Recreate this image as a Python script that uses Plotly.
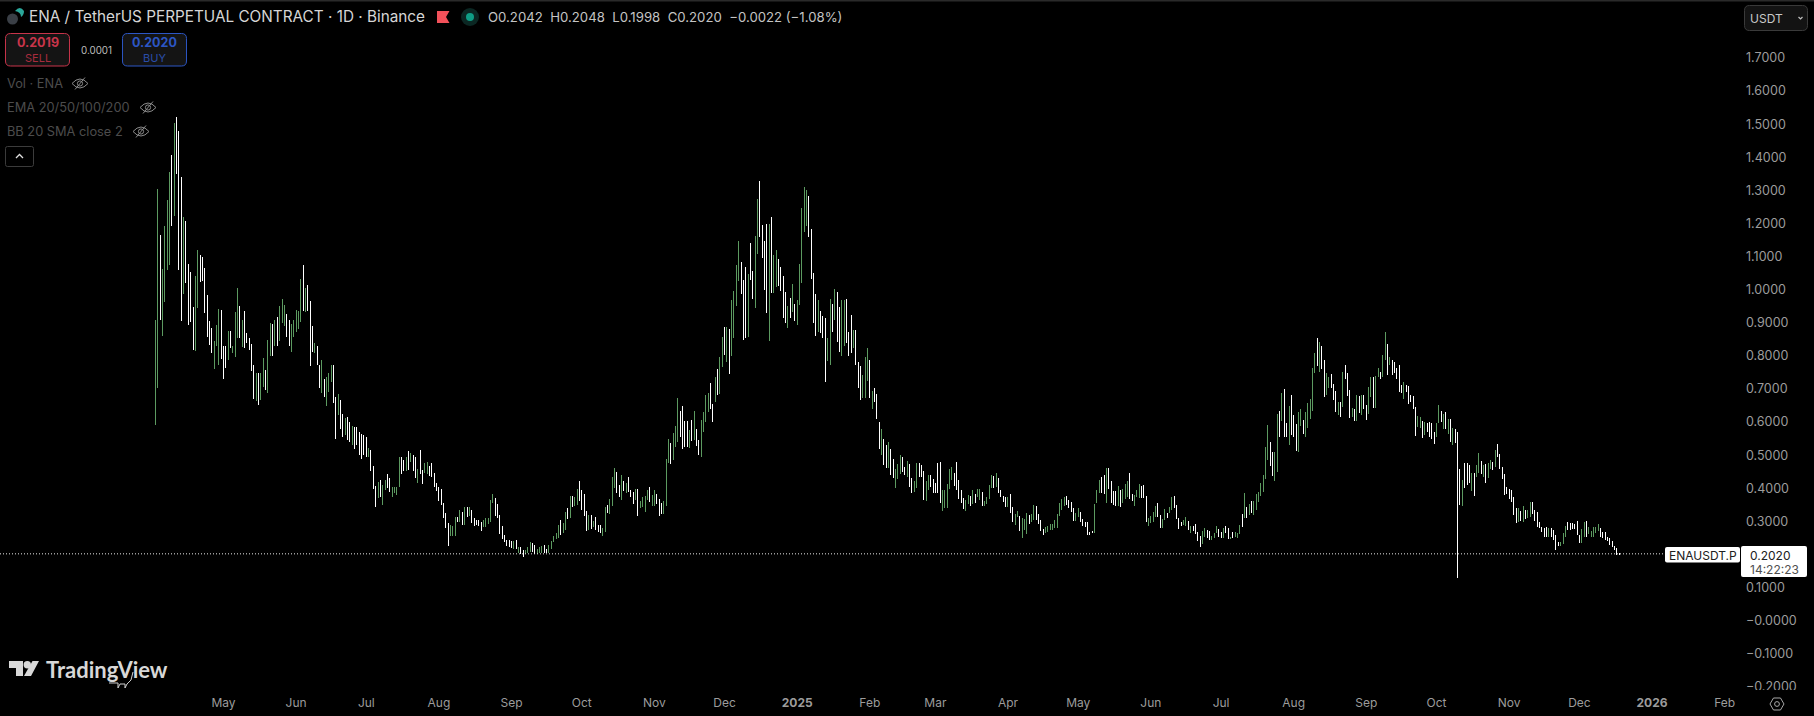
import plotly.graph_objects as go
import pandas as pd

# ---------- price data (one bar per day) ----------
start_date = "2024-04-02"

high_a = [.908,1.304,1.165,1.062,1.192,1.271,1.355,1.407,1.505,1.521,
 1.479,1.339,1.219,1.207,1.077,1.052,.948,1.041,1.120,1.105,
 1.100,1.065,.984,.905,.883,.845,.893,.942,.939,.830,
 .830,.875,.875,.830,.932,1.004,.951,.908,.937,.868,
 .853,.836,.772,.747,.747,.749,.795,.757,.848,.900,
 .896,.908,.916,.951,.971,.954,.926,.908,.896,.908,
 .939,.937,1.032,1.074,1.006,1.014,.966,.890,.838,.830,
 .774,.788,.731,.735,.747,.772,.772,.675,.685,.667,
 .624,.611,.614,.60,.588,.586,.586,.57,.565,.56]
low_a = [.591,.704,.908,.861,.964,1.059,1.075,1.192,1.224,1.349,
 1.059,.906,.987,1.021,.893,.903,.818,.816,.946,1.024,
 1.026,.931,.858,.833,.810,.761,.830,.772,.790,.731,
 .762,.788,.823,.808,.796,.855,.853,.828,.825,.838,
 .818,.755,.670,.664,.653,.667,.705,.697,.689,.800,
 .800,.830,.830,.845,.900,.891,.858,.831,.813,.858,
 .872,.880,.903,.936,.934,.936,.769,.811,.808,.772,
 .702,.687,.677,.650,.692,.722,.659,.55,.621,.58,
 .555,.56,.545,.54,.53,.52,.53,.50,.49,.50]
dir_a = "GGWGGGGWGW" "WWGWWWWGGW" "WWWWWGGGWW" "WGWGGGWGWW" "WWWGWGGWGG" "WGWGGGWWGG" "GGGWGWWWGW" "WGWGGGWWGW" "WGWWGWWWWW"

high_b = [.554,.521,.516,.467,.407,.418,.425,.410,.425,.442,
 .430,.403,.403,.403,.496,.496,.485,.496,.513,.506,
 .501,.494,.458,.516,.455,.475,.478,.467,.477,.445,
 .415,.403,.398,.355,.324,.296,.289,.287,.312,.314,
 .334,.329,.344,.344,.344,.334,.309,.304,.304,.299,
 .304,.309,.309,.365,.383,.370,.352,.319,.286,.259,
 .244,.244,.241,.242,.244,.224,.224,.214,.214,.224,
 .237,.234,.229,.216]
low_b = [.496,.496,.453,.398,.342,.370,.373,.350,.395,.400,
 .390,.373,.385,.380,.403,.442,.452,.453,.455,.480,
 .452,.430,.415,.442,.413,.445,.443,.438,.435,.405,
 .392,.363,.350,.309,.279,.227,.256,.256,.256,.299,
 .299,.289,.289,.314,.316,.296,.286,.288,.286,.272,
 .284,.282,.292,.299,.355,.316,.309,.262,.246,.239,
 .227,.224,.219,.217,.217,.206,.203,.193,.202,.206,
 .209,.209,.202,.202]
dir_b = "WGWWWGWGGW" "WGGGGWWGWG" "WWGWWGGWWW" "WWWWWWGGGW" "GWGWGWWWWW" "GGGGGWWWWW" "WWWGWGWWGG" "GWWG"

high_c = [.224,.226,.229,.216,.229,.241,.256,.264,.289,.304,
 .294,.327,.340,.377,.377,.373,.397,.422,.395,.383,
 .331,.319,.319,.301,.312,.289,.289,.279,.344,.349,
 .367,.435,.460,.449,.410,.440,.422,.417,.435,.395,
 .390,.397,.397,.363,.375,.377,.395,.403,.380,.395,
 .383,.367,.357,.361,.489,.549,.538,.566,.589,.672,
 .634,.649,.604,.604,.576,.606,.635,.579,.546,.606,
 .631]
low_c = [.204,.206,.206,.204,.204,.218,.239,.246,.251,.259,
 .266,.274,.306,.309,.344,.347,.349,.363,.335,.316,
 .272,.274,.276,.282,.274,.269,.266,.256,.269,.324,
 .322,.347,.400,.385,.373,.365,.393,.385,.390,.375,
 .353,.365,.316,.340,.343,.329,.365,.360,.347,.347,
 .353,.316,.321,.322,.347,.477,.473,.486,.526,.541,
 .556,.518,.526,.524,.523,.544,.546,.528,.500,.495,
 .571]
dir_c = "GGWWGGGGGW" "GGWGWGGWWW" "WGWGWWWGGW" "GGGWWGWGWW" "WGWGGGGWGG" "WWWGGGWGGG" "WWWWGWGWWG" "G"

high_d = [.682,.689,.717,.655,.735,.760,.796,.856,.888,.888,.881,
 .969,.996,1.075,1.148,1.083,1.029,1.068,1.047,1.142,1.056,
 1.162,1.274,1.328,1.195,1.147,1.198,1.198,1.221,1.105,1.120,
 1.092,1.068,1.041,.993,.951,.974,1.017,.957,.969,1.078,
 1.246,1.309,1.301,1.283,1.183,1.049,.987,.969,.936,.921,
 .913,.855,.971,.957,1.002,.993,.949,.969,.969,.972,
 .871,.923,.878,.878,.782,.769,.742,.797,.825,.788,
 .695,.702,.685]
low_d = [.60,.63,.64,.60,.66,.682,.685,.767,.803,.783,.745,
 .801,.853,.951,1.026,.987,.848,.853,.858,1.029,.971,
 .946,1.108,1.160,1.097,1.0,.931,.846,.991,.991,1.009,
 1.011,.997,.915,.900,.883,.915,.934,.906,.893,.954,
 1.021,1.175,1.192,1.160,1.033,.900,.861,.872,.868,.853,
 .722,.785,.772,.873,.908,.842,.813,.801,.831,.840,
 .801,.810,.825,.772,.702,.667,.672,.672,.725,.672,
 .64,.66,.61]
dir_d = "GGWWGWGGWG" "WGGGGWWWGW" "WGGWWWWGWG" "GWWWWGWGWG" "GGGGWWWWGW" "WWGGWGWWGG" "WWWGWWWGGG" "WGWW"

high_e = [.60,.58,.55,.53,.54,.52,.49]
low_e = [.52,.50,.47,.46,.46,.44,.43]
dir_e = "WGWWGWW"

high_f = [.458,.473,.501,.494,.465,.482,.473,.430,.423,.477,
 .477,.470,.452,.423,.440,.440,.427,.417,.477,.480,
 .395,.395,.413,.458,.465,.445,.479,.425,.395,.372,
 .365,.380,.377,.395,.383,.397,.398,.390,.363,.375,
 .410,.440,.437,.445,.432,.395,.377,.375,.373,.383,
 .342,.321,.331,.317,.309,.306,.324,.319,.322,.350,
 .347,.322,.304,.276,.282,.287,.291,.291,.304,.321,
 .357,.367,.375,.378,.365,.358,.339,.324,.339,.327,
 .306,.299,.297,.269,.272,.352,.395,.425,.433,.440,
 .460,.460,.423,.393,.393,.407,.395,.397,.412,.423,
 .445,.383]
low_f = [.400,.427,.443,.450,.440,.433,.403,.387,.390,.400,
 .435,.433,.365,.363,.395,.405,.385,.387,.385,.357,
 .332,.339,.341,.397,.425,.407,.395,.367,.357,.336,
 .332,.352,.347,.352,.355,.375,.365,.347,.347,.352,
 .368,.400,.400,.405,.387,.375,.358,.342,.342,.326,
 .299,.289,.314,.272,.251,.274,.262,.292,.299,.304,
 .304,.292,.272,.259,.264,.269,.274,.274,.279,.279,
 .316,.334,.347,.350,.339,.327,.302,.302,.314,.299,
 .286,.284,.259,.259,.264,.266,.357,.387,.387,.383,
 .357,.397,.357,.350,.347,.347,.342,.355,.367,.375,
 .367,.362]
dir_f = "GGGWWGWWGG" "WWWGGWWWWW" "GGGGGWWWWW" "GGWGWGGWGG" "GGWGWWWWGW" "WGGWGGGWGG" "WWWWGGGGGG" "GGGWWWWGGW" "WWWWWGGGWW" "GWWWWGWGGG" "WW"

high_g = [.380,.395,.412,.408,.410,.377,.309,.316,.329,.346,
 .357,.319,.306,.337,.324,.344,.373,.377,.350,.309,
 .299,.304,.314,.301,.287,.287,.292,.269,.256,.272,
 .279,.274,.271,.256,.266,.286,.276,.269,.279,.286,
 .281,.254,.267,.269,.264,.289,.322,.387,.343,.353,
 .362,.363,.383,.390,.415,.440,.526,.590,.540,.511,
 .511,.625,.635,.687,.700,.596,.649,.682,.621,.594,
 .631,.639,.606,.631,.657,.670,.764,.810,.853,.841,
 .830,.788,.747,.735,.745,.715,.694,.662,.662,.752,
 .772,.747,.697,.642,.639,.682,.679,.682,.682,.652,
 .707,.737,.737,.739,.762]
low_g = [.347,.375,.372,.372,.370,.299,.286,.296,.299,.314,
 .314,.281,.279,.304,.309,.324,.333,.340,.306,.277,
 .286,.289,.287,.274,.266,.272,.262,.242,.224,.232,
 .254,.251,.244,.244,.249,.264,.254,.249,.249,.264,
 .247,.247,.249,.252,.249,.262,.284,.309,.311,.319,
 .326,.319,.334,.360,.378,.390,.427,.485,.468,.437,
 .422,.450,.556,.603,.556,.554,.531,.561,.554,.514,
 .511,.588,.564,.556,.583,.608,.634,.749,.770,.752,
 .759,.677,.682,.704,.702,.667,.632,.621,.616,.645,
 .729,.679,.611,.616,.604,.604,.628,.621,.639,.606,
 .623,.677,.642,.643,.735]
dir_g = "GGGWWWGGGG" "WWGGWGGWWW" "WGGWGWWWWG" "GWWGGGWWGW" "WGWGGGWGWG" "WGGGGGGGWW" "GGWGWWGWWW" "GGWGGGGGWG" "WWGGWWWGWG" "WWWGWGWGWW" "GGWGG"

high_h = [.752,.803,.871,.836,.798,.788,.783,.762,.772,.712,
 .720,.712,.709,.682,.679,.645,.618,.616,.603,.601,
 .596,.601,.598,.571,.598,.652,.634,.623,.631,.609,
 .609,.581,.578,.569,.458,.425,.475,.475,.470,.445,
 .445,.470,.506,.483,.470,.473,.475,.485,.480,.516,
 .533,.503,.463,.443,.405,.398,.395,.373,.340,.340,
 .331,.347,.335,.333,.358,.358,.335,.327,.297,.282,
 .279,.284,.280,.279,.274,.259,.239,.239,.264,.286,
 .299,.296,.296,.292,.301,.259,.276,.299,.301,.284,
 .271,.282,.284,.292,.279,.269,.269,.252,.249,.242,
 .226,.219,.2048]
low_h = [.729,.735,.788,.742,.773,.742,.749,.730,.690,.689,
 .670,.692,.654,.662,.639,.559,.586,.581,.551,.561,
 .571,.554,.548,.534,.556,.596,.601,.578,.578,.564,
 .541,.531,.538,.128,.350,.347,.400,.410,.415,.392,
 .378,.435,.445,.443,.435,.417,.430,.457,.455,.465,
 .494,.457,.427,.380,.383,.368,.360,.319,.296,.299,
 .301,.299,.307,.309,.314,.322,.301,.282,.279,.269,
 .254,.254,.252,.252,.244,.214,.226,.227,.232,.254,
 .274,.274,.276,.276,.259,.236,.234,.254,.254,.262,
 .252,.254,.264,.272,.254,.249,.244,.242,.229,.224,
 .214,.199,.1998]
dir_h = "WGGWGWWWWW" "GWWWWWGGWG" "WWWWGGWGWG" "WGWWWGWWWG" "WGGWGWGGWG" "WWWWWWWWWG" "WGWGGWWWWW" "WWGWWWWGGG" "WWWWWWGGWG" "GGGGWWWWWW" "WWW"

last_price = 0.2020
ema_text = ["Vol · ENA", "EMA 20/50/100/200", "BB 20 SMA close 2"]
price_ticks = [1.7,1.6,1.5,1.4,1.3,1.2,1.1,1.0,.9,.8,.7,.6,.5,.4,.3,.1,0,-.1,-.2]
price_tick_text = ["1.7000","1.6000","1.5000","1.4000","1.3000","1.2000","1.1000","1.0000",
                   "0.9000","0.8000","0.7000","0.6000","0.5000","0.4000","0.3000","0.1000",
                   "−0.0000","−0.1000","−0.2000"]
time_ticks = ["2024-05-01","2024-06-01","2024-07-01","2024-08-01","2024-09-01","2024-10-01",
              "2024-11-01","2024-12-01","2025-01-01","2025-02-01","2025-03-01","2025-04-01",
              "2025-05-01","2025-06-01","2025-07-01","2025-08-01","2025-09-01","2025-10-01",
              "2025-11-01","2025-12-01","2026-01-01","2026-02-01"]
time_tick_text = ["May","Jun","Jul","Aug","Sep","Oct","Nov","Dec","<b>2025</b>","Feb","Mar","Apr",
                  "May","Jun","Jul","Aug","Sep","Oct","Nov","Dec","<b>2026</b>","Feb"]

# ---------- assemble ----------
segs = [(high_a,low_a,dir_a,90),(high_b,low_b,dir_b,74),(high_c,low_c,dir_c,71),(high_d,low_d,dir_d,74),
        (high_e,low_e,dir_e,7),(high_f,low_f,dir_f,102),(high_g,low_g,dir_g,105),(high_h,low_h,dir_h,103)]
bad = [(i,len(s[0]),len(s[1]),len(s[2]),s[3]) for i,s in enumerate(segs)
       if not (len(s[0])==len(s[1])==len(s[2])==s[3])]
if bad:
    raise SystemExit(f"segment length mismatch {bad}")
high = [v for s in segs for v in s[0]]
low = [v for s in segs for v in s[1]]
direction = "".join(s[2] for s in segs)
open_ = [l if d=="G" else h for h,l,d in zip(high,low,direction)]
close = [h if d=="G" else l for h,l,d in zip(high,low,direction)]
dates = pd.date_range(start_date, periods=len(high), freq="D")

W, H = 1814, 716
FONT = "Inter"
def X(p): return p/W
def Y(p): return 1-p/H

shapes = []
def path_shape(pts, line=None, fill=None, lw=1):
    shapes.append(dict(type="path", xref="paper", yref="paper", layer="above", path=pts,
                       line=dict(color=line or "rgba(0,0,0,0)", width=lw if line else 0),
                       fillcolor=fill or "rgba(0,0,0,0)"))
def P(x,y): return f"{X(x):.5f},{Y(y):.5f}"
def rrect(x0,y0,x1,y1,r,line=None,fill=None,lw=1):
    d = (f"M{P(x0+r,y0)} L{P(x1-r,y0)} Q{P(x1,y0)} {P(x1,y0+r)} L{P(x1,y1-r)} Q{P(x1,y1)} {P(x1-r,y1)} "
         f"L{P(x0+r,y1)} Q{P(x0,y1)} {P(x0,y1-r)} L{P(x0,y0+r)} Q{P(x0,y0)} {P(x0+r,y0)} Z")
    path_shape(d,line,fill,lw)
def poly(pts,line=None,fill=None,lw=1,close_=True):
    d = "M"+" L".join(P(*p) for p in pts)+(" Z" if close_ else "")
    path_shape(d,line,fill,lw)
def circle(cx,cy,r,line=None,fill=None,lw=1):
    shapes.append(dict(type="circle", xref="paper", yref="paper", layer="above",
                       x0=X(cx-r),x1=X(cx+r),y0=Y(cy+r),y1=Y(cy-r),
                       line=dict(color=line or "rgba(0,0,0,0)", width=lw if line else 0),
                       fillcolor=fill or "rgba(0,0,0,0)"))
def eye(cx,cy):
    c = "#8a8a8a"
    path_shape(f"M{P(cx-8,cy)} Q{P(cx,cy-9)} {P(cx+8,cy)} Q{P(cx,cy+9)} {P(cx-8,cy)} Z",line=c)
    circle(cx,cy,2.6,line=c)
    poly([(cx-5,cy+6),(cx+5,cy-6)],line=c,close_=False)

annots = []
def text(x,y,t,size,color,anchor="left",family=FONT):
    annots.append(dict(xref="paper",yref="paper",x=X(x),y=Y(y),text=t,showarrow=False,
                       xanchor=anchor,yanchor="middle",borderpad=0,
                       font=dict(family=family,size=size,color=color)))

# top hairline, clipping mask for the lowest price label
shapes.append(dict(type="rect",xref="paper",yref="paper",layer="above",x0=0,x1=1,y0=Y(1.5),y1=1,
                   line=dict(width=0),fillcolor="#2a2a2a"))
shapes.append(dict(type="rect",xref="paper",yref="paper",layer="above",x0=X(1745),x1=X(1814),y0=Y(697),y1=Y(690),
                   line=dict(width=0),fillcolor="#000000"))
# header
circle(12.5,19,5.5,fill="#3a3f46")
path_shape(f"M{P(15,11)} Q{P(20,5)} {P(24,11)} Q{P(24,15)} {P(21,17)} Q{P(21,12)} {P(15,11)} Z",fill="#2aa79b")
text(28,17,"ENA / TetherUS PERPETUAL CONTRACT · 1D · Binance",15.3,"#d6d6d6")
poly([(437,11),(449.5,11),(446,17),(449.5,23),(437,23)],fill="#f2515a")
circle(470,17,9,fill="#0b2723")
circle(470,17,4,fill="#0f9d85")
text(487,17,"O0.2042  H0.2048  L0.1998  C0.2020  −0.0022 (−1.08%)",13.2,"#c4c4c4")
# sell / buy
rrect(5.5,33.5,69.5,66,5,line="#c8344a",fill="#141414")
text(37.5,43,"<b>0.2019</b>",12.5,"#c8344a","center")
text(37.5,57.5,"SELL",11,"#a82c3e","center")
text(96,50.5,"0.0001",9.8,"#bdbdbd","center")
rrect(122.5,33.5,186.5,66,5,line="#2c56c4",fill="#141414")
text(154.5,43,"<b>0.2020</b>",12.5,"#2c56c4","center")
text(154.5,57.5,"BUY",11,"#2a4da8","center")
# legend rows
text(6,83.5,ema_text[0],12.8,"#4c4c4c")
eye(80,83.5)
text(6,107.5,ema_text[1],12.8,"#4c4c4c")
eye(148,107.5)
text(6,131.5,ema_text[2],12.8,"#4c4c4c")
eye(141,131.5)
rrect(5.5,146.5,33.5,166.5,2,line="#3c3c3c")
poly([(16,158),(19.5,154.5),(23,158)],line="#e0e0e0",lw=1.3,close_=False)
# currency selector
rrect(1744.5,5.5,1807.5,30.5,5,line="#3a3a3a",fill="#131313")
text(1749,18,"USDT",12,"#c8c8c8")
poly([(1798.5,17),(1800.5,19),(1802.5,17)],line="#c0c0c0",lw=1.2,close_=False)
# last price tags
rrect(1665,547,1740,562.5,2,fill="#ffffff")
text(1702.5,555,"ENAUSDT.P",12,"#202020","center")
rrect(1741,546,1807,577,2,fill="#ffffff")
text(1749,555,"0.2020",12,"#202020")
text(1749,569,"14:22:23",12,"#505050")
# watermark
poly([(9,661),(23,661),(23,676),(16,676),(16,668),(9,668)],fill="#d8d8d8")
circle(27.3,664.8,3.7,fill="#d8d8d8")
poly([(32.5,661),(39,661),(31,676),(24,676)],fill="#d8d8d8")
text(45,669,"<b>TradingView</b>",22,"#d8d8d8",family="Lato")
poly([(109,683),(118,683),(118,688),(120,684),(125,684),(125,688),(127,684),(131,680),(133,672)],line="#d0d0d0",lw=1,close_=False)
# settings hexagon
poly([(1770,704),(1773.5,698),(1780.5,698),(1784,704),(1780.5,710),(1773.5,710)],line="#a8a8a8")
circle(1777,704,2.4,line="#a8a8a8")

fig = go.Figure(go.Ohlc(
    x=dates, open=open_, high=high, low=low, close=close, tickwidth=0,
    increasing=dict(line=dict(color="#5c9a60",width=1)),
    decreasing=dict(line=dict(color="#ffffff",width=1)),
    hoverinfo="skip", showlegend=False))

# dotted last-price line, anchored on the price axis
shapes.insert(0,dict(type="line",xref="paper",yref="y",layer="above",x0=0,x1=X(1665),y0=last_price,y1=last_price,
                     line=dict(color="#e8e8e8",width=1,dash="1px,2px")))

fig.update_layout(
    width=W,height=H,autosize=False,margin=dict(l=0,r=0,t=0,b=0,autoexpand=False),
    paper_bgcolor="#000000",plot_bgcolor="#000000",showlegend=False,hovermode=False,
    font=dict(family=FONT,color="#9c9c9c",size=12),
    shapes=shapes,annotations=annots,
    xaxis=dict(domain=[0,1745/W],range=["2024-01-26 14:00","2026-02-09 17:00"],rangeslider=dict(visible=False),
               tickmode="array",tickvals=time_ticks,ticktext=time_tick_text,showgrid=False,zeroline=False,
               showline=False,ticks="",tickangle=0,tickfont=dict(family=FONT,size=12,color="#9c9c9c"),
               ticklabelstandoff=4,anchor="y"),
    yaxis=dict(domain=[(H-690)/H,1],range=[-0.2094,1.8752],side="right",anchor="x",
               tickmode="array",tickvals=price_ticks,ticktext=price_tick_text,showgrid=False,zeroline=False,
               showline=False,ticks="",tickfont=dict(family=FONT,size=12.5,color="#9c9c9c")),
)
fig.write_html("out.html",config=dict(displayModeBar=False),
    post_script="document.head.insertAdjacentHTML('beforeend','<style>html,body{margin:0;padding:0;overflow:hidden;"
                "height:716px;background:#000}.plotly-graph-div{display:block}"
                ".ohlclayer path{shape-rendering:crispEdges}</style>');")
